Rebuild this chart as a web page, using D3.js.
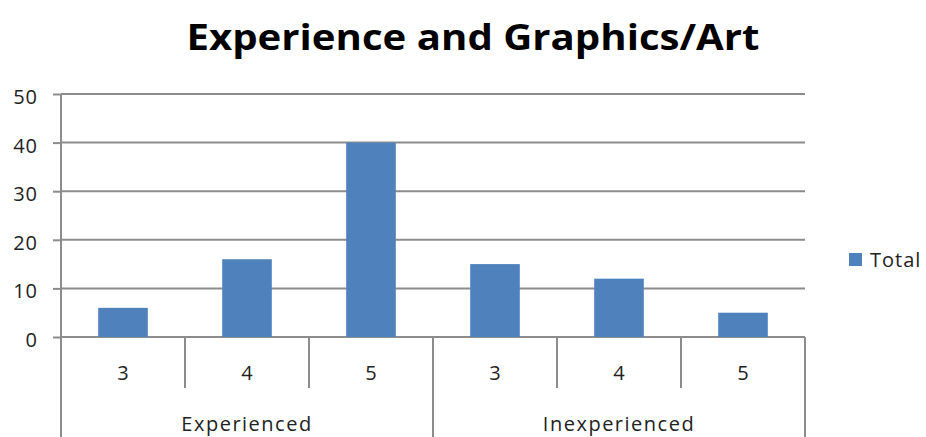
<!DOCTYPE html>
<html>
<head>
<meta charset="utf-8">
<script src="https://cdn.jsdelivr.net/npm/d3@7"></script>
<style>
  body { margin: 0; background: #fff; }
  text { font-family: "Open Sans", "Liberation Sans", sans-serif; }
</style>
</head>
<body>
<div id="chart"></div>
<script>
// data
var groups = ["Experienced", "Inexperienced"];
var ratings = ["3", "4", "5"];
var experienced = [6, 16, 40];
var inexperienced = [15, 12, 5];
var yTicks = [0, 10, 20, 30, 40, 50];
var seriesName = "Total";

var values = [experienced, inexperienced];
var rows = [];
groups.forEach(function(g, gi) {
    ratings.forEach(function(r, ri) {
        rows.push({group: g, rating: r, key: g + "|" + r, value: values[gi][ri]});
    });
});

var width = 926, height = 437;
var plot = {left: 61, right: 805, top: 94, bottom: 337};

var svg = d3.select("#chart").append("svg")
    .attr("width", width)
    .attr("height", height);

var x = d3.scaleBand()
    .domain(rows.map(d => d.key))
    .range([plot.left, plot.right])
    .paddingInner(0)
    .paddingOuter(0);

var y = d3.scaleLinear()
    .domain([0, 50])
    .range([plot.bottom, plot.top]);

var gridColor = "#8c8c8c";
var textColor = "#222";

// title
svg.append("text")
    .attr("x", 473)
    .attr("y", 50)
    .attr("text-anchor", "middle")
    .attr("textLength", 573)
    .attr("lengthAdjust", "spacingAndGlyphs")
    .style("font-size", "36px")
    .style("font-weight", "bold")
    .attr("fill", "#000")
    .text("Experience and Graphics/Art");

// gridlines
svg.append("g")
    .selectAll("line")
    .data(yTicks)
    .enter().append("line")
    .attr("x1", plot.left)
    .attr("x2", plot.right)
    .attr("y1", d => y(d))
    .attr("y2", d => y(d))
    .attr("stroke", gridColor)
    .attr("stroke-width", 2);

// y axis
var yAxis = svg.append("g")
    .attr("transform", "translate(" + plot.left + ",0)")
    .call(d3.axisLeft(y).tickValues(yTicks).tickSize(8).tickPadding(15));
yAxis.select(".domain").remove();
yAxis.selectAll(".tick line").attr("stroke", gridColor).attr("stroke-width", 2);
yAxis.selectAll(".tick text")
    .attr("dy", "0.47em")
    .style("font-size", "20px")
    .style("letter-spacing", "1px")
    .attr("fill", textColor);

svg.append("line")
    .attr("x1", plot.left).attr("x2", plot.left)
    .attr("y1", y(50)).attr("y2", height)
    .attr("stroke", gridColor)
    .attr("stroke-width", 2);

// bars
var barWidth = x.bandwidth() * 0.4;
svg.selectAll(".bar")
    .data(rows)
    .enter().append("rect")
    .attr("class", "bar")
    .attr("x", d => x(d.key) + (x.bandwidth() - barWidth) / 2)
    .attr("y", d => y(d.value))
    .attr("width", barWidth)
    .attr("height", d => y(0) - y(d.value))
    .attr("fill", "#4f81bd");

// category separators
var bounds = rows.map((d, i) => ({x: x(d.key), major: i % ratings.length == 0}));
bounds.push({x: plot.right, major: true});
svg.append("g")
    .selectAll("line")
    .data(bounds.filter(d => d.x > plot.left))
    .enter().append("line")
    .attr("x1", d => d.x)
    .attr("x2", d => d.x)
    .attr("y1", plot.bottom)
    .attr("y2", d => d.major ? height : 388)
    .attr("stroke", gridColor)
    .attr("stroke-width", 2);

// inner labels
svg.append("g")
    .selectAll("text")
    .data(rows)
    .enter().append("text")
    .attr("x", d => x(d.key) + x.bandwidth() / 2)
    .attr("y", 380)
    .attr("text-anchor", "middle")
    .style("font-size", "20px")
    .attr("fill", textColor)
    .text(d => d.rating);

// group labels
svg.append("g")
    .selectAll("text")
    .data(groups)
    .enter().append("text")
    .attr("x", g => {
        var first = x(g + "|" + ratings[0]);
        var last = x(g + "|" + ratings[ratings.length - 1]) + x.bandwidth();
        return (first + last) / 2;
    })
    .attr("y", 431)
    .attr("text-anchor", "middle")
    .style("font-size", "20px")
    .style("letter-spacing", "1.5px")
    .attr("fill", textColor)
    .text(g => g);

// legend
var legend = svg.append("g").attr("transform", "translate(849,253)");
legend.append("rect")
    .attr("width", 13)
    .attr("height", 13)
    .attr("fill", "#4f81bd");
legend.append("text")
    .attr("x", 21)
    .attr("y", 14)
    .style("font-size", "20px")
    .style("letter-spacing", "1px")
    .attr("fill", textColor)
    .text(seriesName);
</script>
</body>
</html>
